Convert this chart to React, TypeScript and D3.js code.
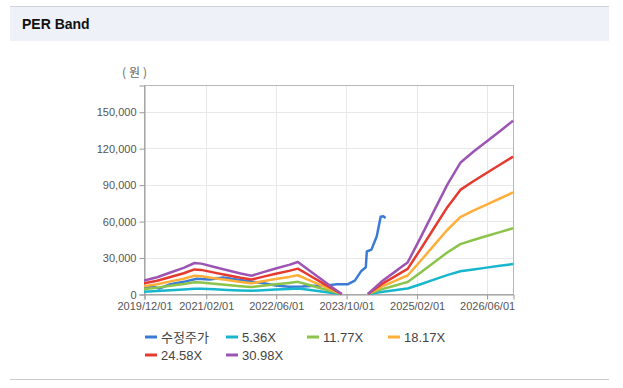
import React, { useRef, useEffect } from 'react';
import * as d3 from 'd3';

// band dates (PER band lines share the same dates)
const bandDates = [
    '2019/12/01', '2020/03/01', '2020/06/01', '2020/09/01', '2020/11/15', '2021/01/01',
    '2021/04/01', '2021/07/01', '2021/10/01', '2021/12/15', '2022/03/01', '2022/06/01',
    '2022/09/01', '2022/11/01', '2023/01/01', '2023/04/01', '2023/07/01', '2023/09/01',
    '2023/12/01', '2024/03/01', '2024/06/01', '2024/09/01', '2024/11/01', '2024/12/01',
    '2025/03/01', '2025/06/01', '2025/09/01', '2025/12/01', '2026/03/01', '2026/06/01',
    '2026/09/01', '2026/12/01',
];

const per536 = [
    1900, 2390, 3060, 3720, 4410, 4330, 3840, 3370, 2910, 2600, 3080, 3630,
    4150, 4550, 3630, 2270, 900, 0, null, 0, 1730, 3110, 4070, 4500,
    8060, 11800, 15540, 18690, 20240, 21710, 23180, 24650,
];
const per1177 = [
    4180, 5240, 6730, 8170, 9690, 9500, 8430, 7410, 6380, 5700, 6760, 7980,
    9120, 9990, 7980, 4980, 1980, 0, null, 0, 3800, 6840, 8930, 9880,
    17700, 25910, 34120, 41030, 44450, 47680, 50910, 54140,
];
const per1817 = [
    6450, 8090, 10380, 12610, 14960, 14660, 13020, 11440, 9850, 8800, 10440, 12320,
    14080, 15430, 12320, 7680, 3050, 0, null, 0, 5870, 10560, 13790, 15250,
    27330, 40000, 52670, 63340, 68620, 73610, 78590, 83580,
];
const per2458 = [
    8730, 10950, 14040, 17060, 20230, 19840, 17610, 15470, 13330, 11900, 14120, 16660,
    19040, 20870, 16660, 10390, 4130, 0, null, 0, 7930, 14280, 18650, 20630,
    36970, 54110, 71250, 85690, 92830, 99570, 106320, 113060,
];
const per3098 = [
    11000, 13800, 17700, 21500, 25500, 25000, 22200, 19500, 16800, 15000, 17800, 21000,
    24000, 26300, 21000, 13100, 5200, 0, null, 0, 10000, 18000, 23500, 26000,
    46600, 68200, 89800, 108000, 117000, 125500, 134000, 142500,
];

// adjusted price (수정주가)
const priceDates = [
    '2019/12/01', '2020/02/01', '2020/03/15', '2020/06/01', '2020/09/01', '2020/12/01',
    '2021/03/01', '2021/06/01', '2021/09/01', '2021/12/01', '2022/03/01', '2022/06/01',
    '2022/09/01', '2022/12/01', '2023/03/01', '2023/06/01', '2023/08/01', '2023/10/15',
    '2023/12/01', '2024/01/15', '2024/02/15', '2024/02/22', '2024/03/25', '2024/05/01',
    '2024/05/28', '2024/06/15', '2024/07/01',
];
const priceValues = [
    5500, 6000, 4500, 8000, 10000, 12500, 12000, 13500, 12000, 10500, 9000, 7000,
    6000, 6200, 6800, 7300, 8000, 8100, 11000, 19000, 22000, 35000, 36500, 47500,
    63500, 64000, 62500,
];

const xTickLabels = ['2019/12/01', '2021/02/01', '2022/06/01', '2023/10/01', '2025/02/01', '2026/06/01'];
const yTickValues = [0, 30000, 60000, 90000, 120000, 150000];

const seriesNames = ['수정주가', '5.36X', '11.77X', '18.17X', '24.58X', '30.98X'];
const seriesColors = ['#3a7bd5', '#17b6cc', '#8cc34b', '#ffae3a', '#e53a2f', '#9c55b3'];

const W = 623;
const H = 388;

const App: React.FC = () => {
    const svgRef = useRef<SVGSVGElement | null>(null);

    useEffect(() => {
        const svg = d3.select(svgRef.current);
        svg.selectAll('*').remove();

        const parse = d3.timeParse('%Y/%m/%d');
        const margin = { top: 85, left: 144, right: 110, bottom: 94 };
        const innerW = W - margin.left - margin.right;
        const innerH = H - margin.top - margin.bottom;

        // header
        svg.append('rect').attr('x', 10).attr('y', 6).attr('width', 599).attr('height', 35).attr('fill', '#eef2f8');
        svg.append('line').attr('x1', 10).attr('x2', 609).attr('y1', 6.5).attr('y2', 6.5).attr('stroke', '#d0d4da');
        svg.append('text').attr('x', 22).attr('y', 29)
            .attr('font-family', '"Liberation Sans", Arial, sans-serif')
            .attr('font-size', 14).attr('font-weight', 'bold').attr('fill', '#111')
            .text('PER Band');
        svg.append('line').attr('x1', 10).attr('x2', 609).attr('y1', 379.5).attr('y2', 379.5).attr('stroke', '#cccccc');

        const xScale = d3.scaleTime()
            .domain([parse('2019/12/01')!, parse('2026/12/01')!])
            .range([0, innerW]);
        const yScale = d3.scaleLinear().domain([0, 172000]).range([innerH, 0]);

        const g = svg.append('g').attr('transform', `translate(${margin.left},${margin.top})`);

        // grid
        g.append('g').selectAll('line').data(yTickValues.slice(1)).enter().append('line')
            .attr('x1', 0).attr('x2', innerW)
            .attr('y1', d => Math.round(yScale(d)) + 0.5).attr('y2', d => Math.round(yScale(d)) + 0.5)
            .attr('stroke', '#e8e8e8');
        g.append('g').selectAll('line').data(xTickLabels.slice(1)).enter().append('line')
            .attr('x1', d => Math.round(xScale(parse(d)!)) + 0.5).attr('x2', d => Math.round(xScale(parse(d)!)) + 0.5)
            .attr('y1', 0).attr('y2', innerH)
            .attr('stroke', '#e8e8e8');

        // frame
        g.append('rect').attr('x', 0.5).attr('y', 0.5).attr('width', innerW).attr('height', innerH)
            .attr('fill', 'none').attr('stroke', '#b8b8b8');

        // axes
        const font = '"Liberation Sans", Arial, sans-serif';
        const xAxis = d3.axisBottom(xScale)
            .tickValues(xTickLabels.map(d => parse(d)!))
            .tickFormat(d3.timeFormat('%Y/%m/%d') as any)
            .tickSizeOuter(0).tickSize(5).tickPadding(3);
        const xg = g.append('g').attr('transform', `translate(0.5,${innerH + 0.5})`).call(xAxis);
        xg.select('.domain').attr('stroke', '#999');
        xg.selectAll('.tick line').attr('stroke', '#999');
        xg.selectAll('text').attr('font-family', font).attr('font-size', 11).attr('fill', '#555');

        const yAxis = d3.axisLeft(yScale)
            .tickValues(yTickValues)
            .tickFormat(d3.format(',') as any)
            .tickSizeOuter(0).tickSize(5).tickPadding(3);
        const yg = g.append('g').attr('transform', 'translate(0.5,0.5)').call(yAxis);
        yg.select('.domain').attr('stroke', '#999');
        yg.selectAll('.tick line').attr('stroke', '#999');
        yg.selectAll('text').attr('font-family', font).attr('font-size', 11).attr('fill', '#555');

        svg.append('text').attr('x', 122).attr('y', 77)
            .attr('font-family', '"Noto Sans CJK KR", sans-serif')
            .attr('font-size', 12).attr('fill', '#666')
            .attr('letter-spacing', 3)
            .text('(원)');

        // lines
        svg.append('defs').append('clipPath').attr('id', 'plot-clip')
            .append('rect').attr('x', 0).attr('y', -5).attr('width', innerW + 2).attr('height', innerH + 6);

        type Pt = { date: Date; value: number | null };
        const line = d3.line<Pt>()
            .defined(d => d.value != null)
            .x(d => xScale(d.date))
            .y(d => yScale(d.value as number));

        const priceSeries: Pt[] = priceDates.map((d, i) => ({ date: parse(d)!, value: priceValues[i] }));
        const bands = [per536, per1177, per1817, per2458, per3098].map(vals =>
            bandDates.map((d, i) => ({ date: parse(d)!, value: vals[i] })));
        const allSeries = [priceSeries, ...bands];

        const lg = g.append('g').attr('clip-path', 'url(#plot-clip)');
        allSeries.forEach((s, i) => {
            lg.append('path')
                .datum(s)
                .attr('d', line as any)
                .attr('fill', 'none')
                .attr('stroke', seriesColors[i])
                .attr('stroke-width', 2.5)
                .attr('stroke-linejoin', 'round');
        });

        // legend
        const legend = svg.append('g');
        seriesNames.forEach((name, i) => {
            const col = i % 4;
            const row = Math.floor(i / 4);
            const lx = 145 + col * 81;
            const ly = 337 + row * 18;
            legend.append('line')
                .attr('x1', lx).attr('x2', lx + 12).attr('y1', ly).attr('y2', ly)
                .attr('stroke', seriesColors[i]).attr('stroke-width', 3);
            legend.append('text')
                .attr('x', lx + 16).attr('y', ly + 5)
                .attr('font-family', '"Liberation Sans", "Noto Sans CJK KR", sans-serif')
                .attr('font-size', 13).attr('fill', '#444')
                .text(name);
        });
    }, []);

    return (
        <div style={{ position: 'absolute', left: 0, top: 0, width: W, height: H, background: '#fff' }}>
            <svg ref={svgRef} width={W} height={H}></svg>
        </div>
    );
};

export default App;
